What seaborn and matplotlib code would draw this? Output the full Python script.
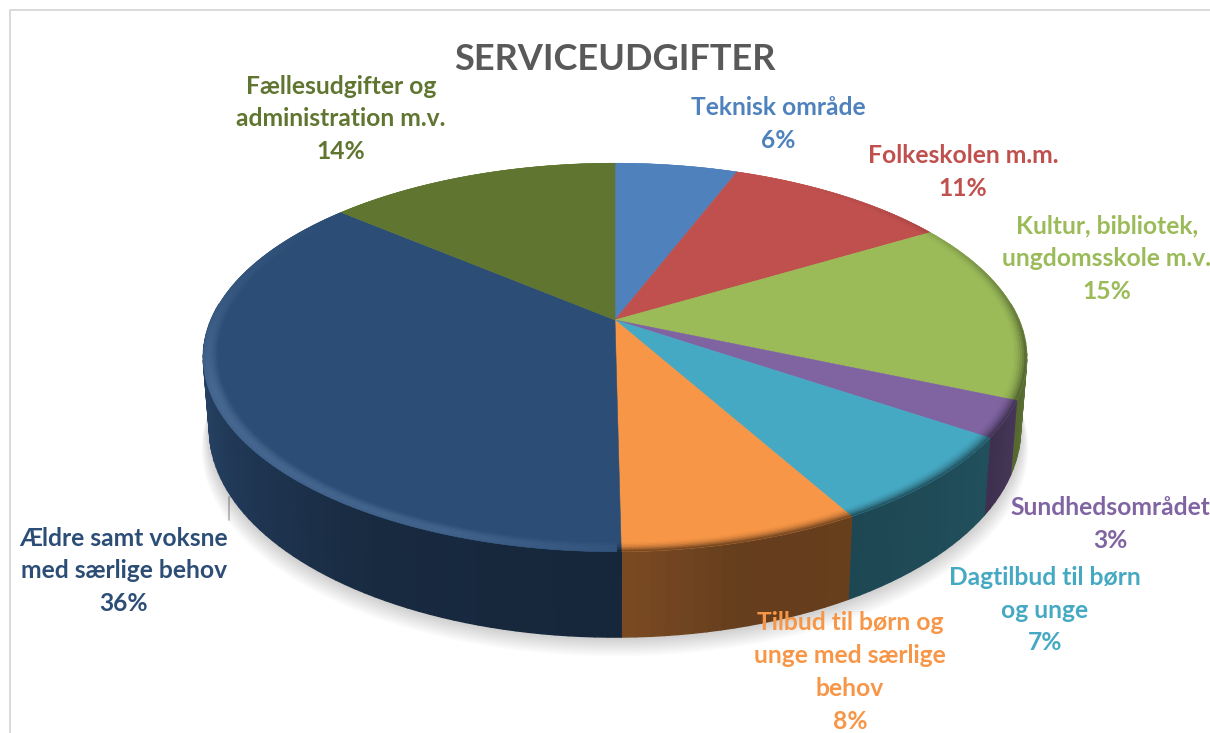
# serviceudgifter - 3d looking pie
import numpy as np
import matplotlib
matplotlib.use("Agg")
import matplotlib.pyplot as plt
from matplotlib.collections import PolyCollection
from matplotlib.colors import to_rgb
import seaborn as sns

sns.set_theme(style="white")
plt.rcParams['font.family'] = ['Lato', 'DejaVu Sans']

categories = ['Teknisk område', 'Folkeskolen m.m.', 'Kultur, bibliotek,\nungdomsskole m.v.',
              'Sundhedsområdet', 'Dagtilbud til børn\nog unge',
              'Tilbud til børn og\nunge med særlige\nbehov',
              'Ældre samt voksne\nmed særlige behov', 'Fællesudgifter og\nadministration m.v.']
# the labels show them rounded
values = [5.8, 10.6, 15.1, 3.0, 7.4, 7.9, 36.4, 13.8]
colors = ['#4F81BD', '#C0504D', '#9BBB59', '#8064A2', '#46A9C4', '#F79646', '#2C4D75', '#5F7530']
title = 'SERVICEUDGIFTER'

# label centres in pixels
label_pos = [(778, 124), (963, 172), (1107, 259), (1110, 524), (1045, 610), (850, 672), (124, 571), (341, 119)]

# pie geometry, fake perspective
cx, cy = 615, 320
a, b, c = 187, 0.1927, 404
depth = 69
shrink = 0.985

fig = plt.figure(figsize=(12.1, 7.33), dpi=100)
ax = fig.add_axes([0, 0, 1, 1])

# let pie work out the angles, then redraw the slices in perspective
wedges, _ = ax.pie(values, startangle=90, counterclock=False)
spans = []
for w in wedges:
    # convert to clockwise from 12 o'clock
    spans.append((90 - w.theta2, 90 - w.theta1))
    w.remove()
ax.set_aspect('auto')
ax.set_xlim(0, 1210)
ax.set_ylim(733, 0)
ax.axis('off')


def project(theta, r=1.0, lower=False):
    t = np.radians(theta)
    X, Y = r * np.sin(t), r * np.cos(t)
    d = 1 + b * Y
    x = c * X / d
    y = -a * Y / d
    if lower:
        return cx + shrink * x, cy + y + depth / d
    return cx + x, cy + y


def wall_shade(theta):
    th = theta % 360
    return np.interp(th, [60, 90, 125, 150, 165, 180, 210, 250, 275, 300],
                     [0.75, 0.7, 0.47, 0.42, 0.41, 0.5, 0.55, 0.82, 0.9, 0.9])


def rim_colour(base, theta, t):
    base = np.array(base)
    th = theta % 360
    if th < 180:
        s = np.interp(th, [30, 60, 100, 170, 180], [0, 0.12, 0.5, 0.6, 0.6])
        return tuple(base * (1 - s * t ** 2))
    s = np.interp(th, [180, 200, 250, 285, 310], [0.03, 0.09, 0.11, 0.03, 0])
    return tuple(np.clip(base + s * np.sin(np.pi * 0.7 * t), 0, 1))


# frame of the chart area and the stray leader line
ax.plot([10, 10, 1210], [733, 10, 10], color='#d9d9d9', lw=1.4, zorder=1)
ax.plot([229, 229], [497, 520], color='#b8b8b8', lw=1.2, zorder=1)

# soft shadow under the pie
th = np.linspace(0, 360, 361)
for k in range(1, 13):
    xs, ys = project(th, lower=True)
    xs = cx + (xs - cx) * (1 + k * 0.0016)
    ys = ys + k * 1.6
    ax.fill(xs, ys, color='black', alpha=0.014, lw=0, zorder=2)

# side wall, back to front, only the part facing us
quads, quad_cols, keys = [], [], []
for (t1, t2), col in zip(spans, colors):
    base = np.array(to_rgb(col))
    lo, hi = max(t1 % 360 if t2 % 360 > t1 % 360 else t1, 85), min(t2, 275)
    if hi <= lo:
        continue
    steps = np.linspace(lo, hi, max(int((hi - lo) / 1.5), 2))
    for s1, s2 in zip(steps[:-1], steps[1:]):
        x1, y1 = project(s1)
        x2, y2 = project(s2)
        x3, y3 = project(s2, lower=True)
        x4, y4 = project(s1, lower=True)
        quads.append([(x1, y1), (x2, y2), (x3, y3), (x4, y4)])
        quad_cols.append(tuple(base * wall_shade((s1 + s2) / 2)))
        keys.append(y1)
order = np.argsort(keys)
ax.add_collection(PolyCollection([quads[i] for i in order], facecolors=[quad_cols[i] for i in order],
                                 edgecolors=[quad_cols[i] for i in order], linewidths=1.0, zorder=3))

# top face
rim = 0.035
for (t1, t2), col in zip(spans, colors):
    base = to_rgb(col)
    steps = np.linspace(t1, t2, max(int(t2 - t1) * 2, 4))
    xs, ys = project(steps, r=1.0)
    ax.fill(np.r_[cx, xs], np.r_[cy, ys], color=col, lw=0.4, zorder=4)
    band_edges = np.linspace(1 - rim, 1.0, 8)
    polys, cols = [], []
    for r1, r2 in zip(band_edges[:-1], band_edges[1:]):
        tt = ((r1 + r2) / 2 - (1 - rim)) / rim
        for s1, s2 in zip(steps[:-1], steps[1:]):
            p = [project(s1, r1), project(s2, r1), project(s2, r2), project(s1, r2)]
            polys.append(p)
            cols.append(rim_colour(base, (s1 + s2) / 2, tt))
    ax.add_collection(PolyCollection(polys, facecolors=cols, edgecolors=cols, linewidths=0.3, zorder=5))

# texts
ax.text(615, 59, title, ha='center', va='center', fontsize=26, fontweight='bold', color='#595959', zorder=6)
for name, val, col, (lx, ly) in zip(categories, values, colors, label_pos):
    ax.text(lx, ly, f'{name}\n{val:.0f}%', ha='center', va='center', multialignment='center',
            fontsize=17.7, fontweight='bold', color=col, linespacing=1.52, zorder=6, clip_on=True)

fig.savefig('out.png', dpi=100)
